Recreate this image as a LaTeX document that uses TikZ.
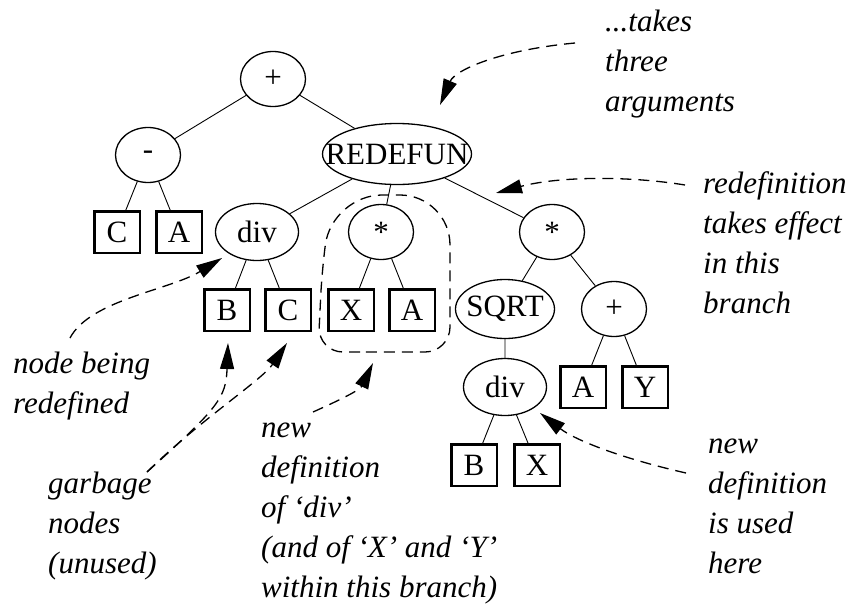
\documentclass[tikz,border=0pt]{standalone}
\usepackage{fontspec}
\setmainfont{Liberation Serif}
\usetikzlibrary{shapes.geometric,arrows.meta}
\def \bare#1{\makebox[0pt]{#1}} % text may stick out of its ellipse

\begin{document}
\begin{tikzpicture}[x=1pt,y=-1pt,
	font=\fontsize{31}{40}\selectfont,
	op/.style={ellipse,draw,line width=1.3pt,inner sep=0pt,minimum width=65,minimum height=55},
	leaf/.style={rectangle,draw,line width=2.5pt,inner sep=0pt,minimum width=45.5,minimum height=41.5},
	branch/.style={line width=0.9pt},
	note/.style={dash pattern=on 11pt off 7pt,line width=1.3pt,-{Triangle[length=26pt,width=14pt]}},
	remark/.style={font=\fontsize{31}{40}\selectfont\itshape,align=left,anchor=base west,inner sep=0pt}]
\useasboundingbox (0,0) rectangle (851,608);
% the tree
\node[op] (plus) at (273,79) {+};
\node[op] (minus) at (148,155) {-};
\node[op,minimum width=149,minimum height=61] (redefun) at (397,154) {\bare{REDEFUN}};
\node[leaf] (c1) at (117,232) {C};
\node[leaf] (a1) at (179,232) {A};
\node[op,minimum width=83,minimum height=57] (div1) at (257,232) {div};
\node[op] (star1) at (381,232) {*};
\node[op] (star2) at (552,232) {*};
\node[leaf] (b1) at (227,310) {B};
\node[leaf] (c2) at (288,310) {C};
\node[leaf] (x1) at (351,310) {X};
\node[leaf] (a2) at (412,310) {A};
\node[op,minimum width=99,minimum height=59] (sqrt) at (505,309) {\bare{SQRT}};
\node[op] (plus2) at (614,309) {+};
\node[op,minimum width=83,minimum height=57] (div2) at (505,387) {div};
\node[leaf] (a3) at (583,387) {A};
\node[leaf] (y1) at (645,387) {Y};
\node[leaf] (b2) at (474,465) {B};
\node[leaf] (x2) at (537,465) {X};
\draw[branch] (plus) -- (minus) (plus) -- (redefun)
	(minus) -- (c1) (minus) -- (a1)
	(redefun) -- (div1) (redefun) -- (star1) (redefun) -- (star2)
	(div1) -- (b1) (div1) -- (c2) (star1) -- (x1) (star1) -- (a2)
	(star2) -- (sqrt) (star2) -- (plus2) (sqrt) -- (div2)
	(plus2) -- (a3) (plus2) -- (y1) (div2) -- (b2) (div2) -- (x2);
% the new definition
\draw[dash pattern=on 11pt off 7pt,line width=1.3pt]
	(385,352) [rounded corners=25] -- (318,352) -- (322,270)
	[rounded corners=50] -- (332,195) -- (450,195)
	[rounded corners=25] -- (450,352) -- cycle;
% remarks, placed at the baseline of their last line
\node[remark] (takes) at (605,111) {...takes\\three\\arguments};
\node[remark] (effect) at (703,313) {redefinition\\takes effect\\in this\\branch};
\node[remark] (being) at (13,413) {node being\\redefined};
\node[remark] (garbage) at (48,573) {garbage\\nodes\\(unused)};
\node[remark] (newdef) at (261,597) {new\\definition\\of `div'\\(and of `X' and `Y'\\within this branch)};
\node[remark] (used) at (708,573) {new\\definition\\is used\\here};
% arrow ends
\coordinate (t1) at (575,43);   \coordinate (h1) at (440,105);
\coordinate (t2) at (685,185);  \coordinate (h2) at (496,193);
\coordinate (t3) at (70,338);   \coordinate (h3) at (222,258);
\coordinate (t4) at (147,472);  \coordinate (h4) at (228,343); \coordinate (h5) at (287,343);
\coordinate (t6) at (313,412);  \coordinate (h6) at (373,363);
\coordinate (t7) at (686,473);  \coordinate (h7) at (540,413);
\draw[note] (t1) .. controls (500,50) and (455,70) .. (h1);
\draw[note] (t2) .. controls (630,176) and (560,176) .. (h2);
\draw[note] (t3) .. controls (90,300) and (170,290) .. (h3);
\draw[note] (t4) .. controls (218,408) and (226,398) .. (h4);
\draw[note] (t4) .. controls (200,420) and (262,380) .. (h5);
\draw[note] (t6) .. controls (340,400) and (360,390) .. (h6);
\draw[note] (t7) .. controls (620,458) and (575,440) .. (h7);
\end{tikzpicture}
\end{document}
